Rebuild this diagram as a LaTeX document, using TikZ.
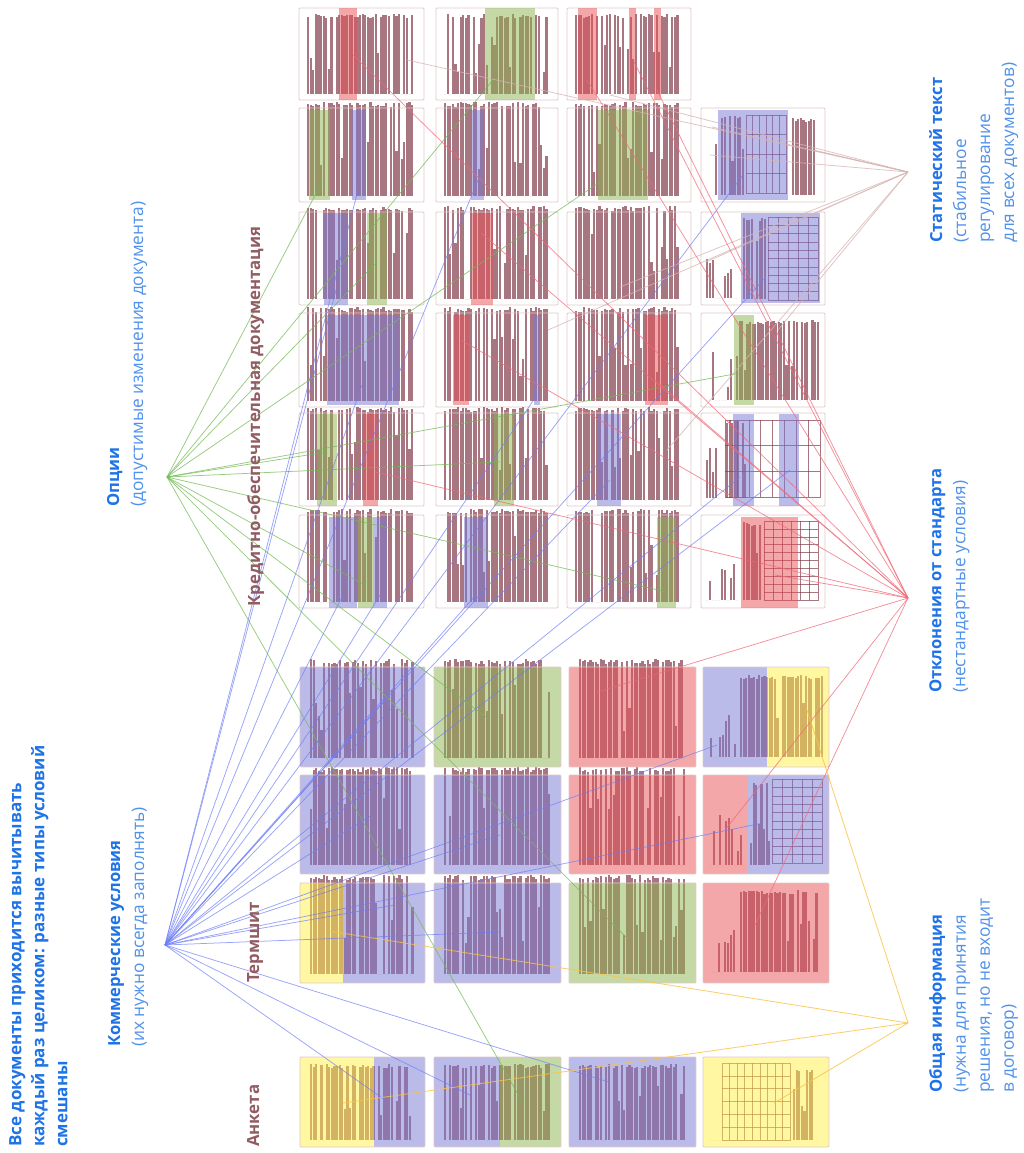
\documentclass[tikz,border=0pt]{standalone}
\usepackage{fontspec}
\setmainfont{Open Sans}
\definecolor{hlblue}{RGB}{120,120,215}
\definecolor{hlgreen}{RGB}{140,180,80}
\definecolor{hlred}{RGB}{232,80,85}
\definecolor{hlyellow}{RGB}{255,240,70}
\definecolor{txtc}{RGB}{130,60,75}
\definecolor{lblue}{RGB}{30,115,230}
\definecolor{lblue2}{RGB}{80,145,235}
\definecolor{maroonl}{RGB}{145,92,98}
\definecolor{lnblue}{RGB}{110,125,245}
\definecolor{lngreen}{RGB}{115,185,85}
\definecolor{lnred}{RGB}{240,105,120}
\definecolor{lnyellow}{RGB}{250,195,70}
\definecolor{lnstat}{RGB}{215,180,180}
\definecolor{pgborder}{RGB}{225,200,200}
\tikzset{
  pgb/.style={draw=pgborder,line width=0.8pt},
  txtfill/.style={fill=txtc,fill opacity=0.7},
  gridl/.style={draw=txtc,draw opacity=0.7,line width=0.5pt},
  lnb/.style={draw=lnblue,line width=0.75pt,draw opacity=0.7},
  lng/.style={draw=lngreen,line width=0.75pt,draw opacity=0.75},
  lnr/.style={draw=lnred,line width=0.75pt,draw opacity=0.75},
  lny/.style={draw=lnyellow,line width=0.85pt,draw opacity=0.8},
  lns/.style={draw=lnstat,line width=0.75pt,draw opacity=0.8},
  lab/.style={rotate=90,align=left,inner sep=0pt,anchor=north west,font=\fontsize{16.6}{24}\selectfont},
  mlab/.style={rotate=90,inner sep=0pt,anchor=north west,text=maroonl,font=\fontsize{16.8}{24}\selectfont\bfseries},
}
\newcommand\bl[1]{\textcolor{lblue}{\fontsize{16.6}{24}\selectfont\bfseries #1}}
\newcommand\rl[1]{\textcolor{lblue2}{\fontsize{17.3}{24}\selectfont #1}}
\newcommand\pg[4]{\fill[white] (#1,#2) rectangle (#3,#4);}
\newcommand\pgb[4]{\draw[pgb,rounded corners=1pt] (#1,#2) rectangle (#3,#4);}
\newcommand\tx[4]{%
  \pgfmathsetmacro\txA{#1}%
  \pgfmathsetmacro\txB{#1+2.6}%
  \pgfmathsetmacro\txC{#3}%
  \pgfmathsetmacro\txD{#4}%
  \pgfmathsetmacro\txH{#4-#2}%
  \foreach \xx in {\txA,\txB,...,\txC}{%
    \pgfmathsetmacro\rr{rnd}%
    \pgfmathsetmacro\hh{\rr<0.1 ? 0 : (\rr<0.24 ? \txH*(0.25+3.5*(\rr-0.1)) : \txH*(0.95+0.05*rnd))}%
    \fill[txtfill] (\xx,\txD) rectangle ++(2.1,-\hh);
  }%
}
\newcommand\txs[4]{%
  \pgfmathsetmacro\txA{#1}%
  \pgfmathsetmacro\txB{#1+3.0}%
  \pgfmathsetmacro\txC{#3}%
  \pgfmathsetmacro\txD{#4}%
  \pgfmathsetmacro\txH{#4-#2}%
  \foreach \xx in {\txA,\txB,...,\txC}{%
    \pgfmathsetmacro\rr{rnd}%
    \pgfmathsetmacro\hh{\rr<0.45 ? 0 : \txH*(0.15+0.6*rnd)}%
    \fill[txtfill] (\xx,\txD) rectangle ++(1.8,-\hh);
  }%
}
\newcommand\hl[5]{\fill[#1,fill opacity=0.5] (#2,#3) rectangle (#4,#5);}
\newcommand\grd[6]{%
  \draw[gridl] (#1,#2) rectangle (#3,#4);
  \foreach \k in {1,...,#5}{\draw[gridl] ({#1+(#3-#1)*\k/(#5+1)},#2) -- ({#1+(#3-#1)*\k/(#5+1)},#4);}
  \foreach \k in {1,...,#6}{\draw[gridl] (#1,{#2+(#4-#2)*\k/(#6+1)}) -- (#3,{#2+(#4-#2)*\k/(#6+1)});}
}
\begin{document}
\begin{tikzpicture}[x=1pt,y=-1pt]
\useasboundingbox (0,0) rectangle (1023,1153);
\pgfmathsetseed{7}
% ---------- top group pages (text) ----------
\foreach \xa/\xb in {299/424,436/558,567/691}{
  \pg{\xa}{8}{\xb}{100} \tx{\xa+8}{14}{\xb-12}{94} \pgb{\xa}{8}{\xb}{100}}
\foreach \ya/\yb in {108/202,212/305,313/407,413/506,515/608}{
  \foreach \xa/\xb in {299/424,436/558,567/691}{
    \pg{\xa}{\ya}{\xb}{\yb} \tx{\xa+8}{\ya+6}{\xb-12}{\yb-6} \pgb{\xa}{\ya}{\xb}{\yb}}}
% column 4 pages
\pg{701}{108}{825}{202} \txs{706}{125}{716}{195} \tx{721}{115}{744}{195} \tx{792}{118}{815}{195} \grd{746}{115}{786}{193}{5}{3} \pgb{701}{108}{825}{202}
\pg{701}{212}{825}{305} \txs{706}{225}{738}{298} \tx{743}{218}{765}{299} \grd{768}{217}{818}{300}{4}{9} \pgb{701}{212}{825}{305}
\pg{701}{313}{825}{407} \txs{706}{330}{730}{400} \tx{736}{320}{818}{400} \pgb{701}{313}{825}{407}
\pg{701}{413}{825}{506} \txs{706}{430}{722}{498} \tx{726}{420}{745}{498} \grd{725}{420}{820}{497}{7}{2} \pgb{701}{413}{825}{506}
\pg{701}{515}{825}{608} \txs{706}{535}{738}{600} \tx{743}{522}{761}{600} \grd{764}{521}{818}{600}{5}{9} \pgb{701}{515}{825}{608}
% ---------- bottom group pages ----------
\foreach \ya/\yb in {667/767,775/874,883/983}{
  \foreach \xa/\xb in {300/425,434/561,569/696}{
    \pg{\xa}{\ya}{\xb}{\yb} \tx{\xa+10}{\ya+8}{\xb-12}{\yb-9}}}
\pg{703}{667}{829}{767} \txs{710}{685}{735}{757} \tx{740}{675}{822}{757}
\pg{703}{775}{829}{874} \txs{710}{790}{745}{865} \tx{750}{783}{770}{865} \grd{772}{779}{822}{863}{4}{9}
\pg{703}{883}{829}{983} \txs{712}{900}{735}{972} \tx{740}{890}{820}{972}
\foreach \xa/\xb in {300/425,434/561,569/696}{
  \pg{\xa}{1057}{\xb}{1147} \tx{\xa+10}{1064}{\xb-12}{1140}}
\pg{703}{1057}{829}{1147} \txs{710}{1075}{720}{1140} \grd{722}{1063}{790}{1140}{8}{5} \tx{793}{1068}{812}{1140}
% ---------- highlights: top group ----------
\hl{hlred}{339}{8}{357}{100}
\hl{hlgreen}{485}{8}{535}{100}
\hl{hlred}{578}{8}{597}{100} \hl{hlred}{629}{8}{636}{100} \hl{hlred}{654}{8}{661}{100}
\hl{hlgreen}{309}{110}{330}{200} \hl{hlblue}{352}{110}{366}{200}
\hl{hlblue}{471}{110}{484}{200}
\hl{hlgreen}{598}{110}{648}{200}
\hl{hlblue}{718}{110}{788}{200}
\hl{hlblue}{324}{213}{348}{305} \hl{hlgreen}{367}{213}{387}{305}
\hl{hlred}{471}{213}{493}{305}
\hl{hlblue}{741}{213}{820}{303}
\hl{hlblue}{327}{315}{399}{405}
\hl{hlred}{453}{315}{469}{405} \hl{hlblue}{534}{315}{540}{405}
\hl{hlred}{645}{315}{668}{405}
\hl{hlgreen}{734}{315}{754}{405}
\hl{hlgreen}{317}{414}{337}{506} \hl{hlred}{363}{414}{378}{506}
\hl{hlgreen}{494}{414}{514}{506}
\hl{hlblue}{597}{414}{621}{506}
\hl{hlblue}{733}{414}{754}{506} \hl{hlblue}{779}{414}{799}{506}
\hl{hlblue}{329}{517}{357}{608} \hl{hlgreen}{358}{517}{373}{608} \hl{hlblue}{373}{517}{387}{608}
\hl{hlblue}{464}{517}{488}{608}
\hl{hlgreen}{657}{517}{676}{608}
\hl{hlred}{741}{517}{798}{608}
% ---------- highlights: bottom group ----------
\hl{hlblue}{300}{667}{425}{767} \hl{hlgreen}{434}{667}{561}{767} \hl{hlred}{569}{667}{696}{767}
\hl{hlblue}{703}{667}{767}{767} \hl{hlyellow}{767}{667}{829}{767}
\hl{hlblue}{300}{775}{425}{874} \hl{hlblue}{434}{775}{561}{874} \hl{hlred}{569}{775}{696}{874}
\hl{hlred}{703}{775}{748}{874} \hl{hlblue}{748}{775}{829}{874}
\hl{hlyellow}{300}{883}{343}{983} \hl{hlblue}{343}{883}{425}{983} \hl{hlblue}{434}{883}{561}{983}
\hl{hlgreen}{569}{883}{696}{983} \hl{hlred}{703}{883}{829}{983}
\hl{hlyellow}{300}{1057}{374}{1147} \hl{hlblue}{374}{1057}{425}{1147}
\hl{hlblue}{434}{1057}{500}{1147} \hl{hlgreen}{500}{1057}{561}{1147}
\hl{hlblue}{569}{1057}{696}{1147} \hl{hlyellow}{703}{1057}{829}{1147}
\foreach \ya/\yb in {667/767,775/874,883/983,1057/1147}{
  \foreach \xa/\xb in {300/425,434/561,569/696,703/829}{\pgb{\xa}{\ya}{\xb}{\yb}}}
% ---------- hubs ----------
\coordinate (O) at (167,477);
\coordinate (K) at (165,945);
\coordinate (S) at (908,172);
\coordinate (D) at (908,598);
\coordinate (G) at (908,1023);
% ---------- connectors ----------
\foreach \n/\x/\y in {s1/813/150,s2/712/127,s3/710/155,s4/407/60,s5/620/287,s6/667/450,s7/778/330,s8/548/330,s9/706/262,s10/610/95}{
  \coordinate (\n) at (\x,\y); \draw[lns] (S) -- (\n);}
\foreach \n/\x/\y in {g1/493/80,g2/322/182,g3/600/182,g4/377/262,g5/740/373,g6/327/452,g7/500/462,g8/365/585,g9/667/592,g10/490/720,g11/627/938,g12/523/1103}{
  \coordinate (\n) at (\x,\y); \draw[lng] (O) -- (\n);}
\foreach \n/\x/\y in {b1/358/190,b2/478/180,b3/743/175,b4/336/290,b5/765/278,b6/362/385,b7/537/395,b8/610/480,b9/740/477,b10/790/470,b11/343/595,b12/380/595,b13/476/595,b14/385/700,b15/717/745,b16/372/815,b17/500/835,b18/763/823,b19/395/905,b20/500/932,b21/385/1100,b22/470/1095,b23/609/1082}{
  \coordinate (\n) at (\x,\y); \draw[lnb] (K) -- (\n);}
\foreach \n/\x/\y in {d1/353/55,d2/587/80,d3/633/60,d4/657/90,d5/481/233,d6/461/340,d7/655/380,d8/375/472,d9/775/575,d10/597/692,d12/725/830,d13/755/925}{
  \coordinate (\n) at (\x,\y); \draw[lnr] (D) -- (\n);}
\foreach \n/\x/\y in {y1/807/710,y2/329/931,y3/343/1103,y4/774/1103}{
  \coordinate (\n) at (\x,\y); \draw[lny] (G) -- (\n);}
% ---------- labels ----------
\node[lab,text=lblue,font=\fontsize{17}{23}\selectfont\bfseries] (title) at (9,1147)
  {Все документы приходится вычитывать\\каждый раз целиком: разные типы условий\\смешаны};
\node[lab] (kom) at (108,1047) {\bl{Коммерческие условия}\\\rl{(их нужно всегда заполнять)}};
\node[mlab] (term) at (247,983) {Термшит};
\node[mlab] (ank) at (247,1147) {Анкета};
\node[lab] (opc) at (107,507) {\bl{Опции}\\\rl{(допустимые изменения документа)}};
\node[mlab] (kod) at (247,607) {Кредитно-обеспечительная документация};
\node[lab] (stat) at (929,243) {\bl{Статический текст}\\\rl{(стабильное}\\\rl{регулирование}\\\rl{для всех документов)}};
\node[lab] (otk) at (929,693) {\bl{Отклонения от стандарта}\\\rl{(нестандартные условия)}};
\node[lab] (obs) at (929,1093) {\bl{Общая информация}\\\rl{(нужна для принятия}\\\rl{решения, но не входит}\\\rl{в договор)}};
\end{tikzpicture}
\end{document}
